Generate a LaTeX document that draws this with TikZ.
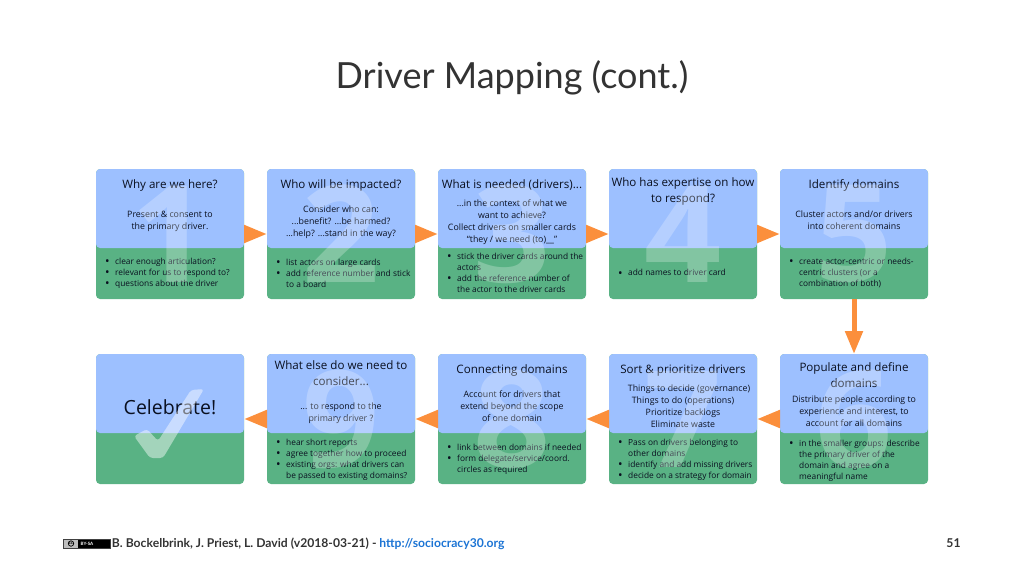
\documentclass[tikz,border=0pt]{standalone}
\usepackage{fontspec}
\setmainfont{Lato}
\setsansfont{Open Sans}
\usetikzlibrary{positioning, arrows.meta}
\definecolor{headblue}{HTML}{9DC0FF}
\definecolor{listgreen}{HTML}{59B284}
\definecolor{flowarrow}{HTML}{FB8F3C}
\definecolor{slidetext}{HTML}{333333}
\definecolor{linkblue}{HTML}{1C74D4}
\definecolor{cardtext}{HTML}{0A1020}
\newcommand{\bul}{\llap{\raisebox{-1.1pt}{\fontsize{12}{12}\selectfont\textbullet}\hspace{5.5pt}}}
\tikzset{
    card/.style = {rectangle, rounded corners=4pt, inner sep=0pt, outer sep=0pt, fill=listgreen,
        minimum width=148pt, minimum height=130pt,
        path picture={\fill[headblue] (path picture bounding box.north west) rectangle
            ([yshift=51pt]path picture bounding box.south east);}},
    cardhead/.style = {inner sep=0pt, align=center, text=cardtext, yshift=-2.5pt, execute at begin node=\strut,
        font=\sffamily\fontsize{11.6}{16}\selectfont},
    cardbody/.style = {inner sep=0pt, align=center, text=cardtext, yshift=-3pt, execute at begin node=\strut,
        font=\sffamily\fontsize{8.8}{12}\selectfont},
    cardlist/.style = {inner sep=0pt, align=left, text=cardtext, yshift=-2.5pt, execute at begin node=\strut,
        font=\sffamily\fontsize{8.35}{11}\selectfont},
    bignum/.style = {inner sep=0pt, text=white, opacity=0.25,
        font=\sffamily\bfseries\fontsize{135}{135}\selectfont},
    flow/.style = {draw=flowarrow, line width=5pt, -{Triangle[length=23pt,width=17pt]}},
}

\begin{document}
\begin{tikzpicture}[x=1pt,y=-1pt]
            \useasboundingbox (0,0) rectangle (1024,576);
            \node (title) at (512,78) [text=slidetext, font=\fontsize{36}{40}\selectfont] {Driver Mapping (cont.)};
            % top row
            \node (c1) at (170,234) [card] {};
            \node (c2) [card, right=23pt of c1] {};
            \node (c3) [card, right=23pt of c2] {};
            \node (c4) [card, right=23pt of c3] {};
            \node (c5) [card, right=23pt of c4] {};
            % bottom row, runs backwards
            \node (c6) [card, below=55pt of c5] {};
            \node (c7) [card, left=23pt of c6] {};
            \node (c8) [card, left=23pt of c7] {};
            \node (c9) [card, left=23pt of c8] {};
            \node (c10) [card, left=23pt of c9] {};
            \draw[flow] (c1.east) -- (c2.west);
            \draw[flow] (c2.east) -- (c3.west);
            \draw[flow] (c3.east) -- (c4.west);
            \draw[flow] (c4.east) -- (c5.west);
            \draw[flow] (c5.south) -- (c6.north);
            \draw[flow] (c6.west) -- (c7.east);
            \draw[flow] (c7.west) -- (c8.east);
            \draw[flow] (c8.west) -- (c9.east);
            \draw[flow] (c9.west) -- (c10.east);

            \node (h1) [cardhead, below=6pt of c1.north] {Why are we here?};
            \node (b1) [cardbody, below=39pt of c1.north] {Present \& consent to\\the primary driver.};
            \node (l1) [cardlist, below right=86.5pt and 19pt of c1.north west] {\bul clear enough articulation?\\\bul relevant for us to respond to?\\\bul questions about the driver};

            \node (h2) [cardhead, below=6pt of c2.north] {Who will be impacted?};
            \node (b2) [cardbody, below=34pt of c2.north] {Consider who can:\\...benefit? ...be harmed?\\...help? ...stand in the way?};
            \node (l2) [cardlist, below right=87.5pt and 19pt of c2.north west] {\bul list actors on large cards\\\bul add reference number and stick\\to a board};

            \node (h3) [cardhead, below=6pt of c3.north] {What is needed (drivers)...};
            \node (b3) [cardbody, below=28pt of c3.north] {...in the context of what we\\want to achieve?\\Collect drivers on smaller cards\\``they / we need (to)\_\_''};
            \node (l3) [cardlist, below right=81.5pt and 19pt of c3.north west] {\bul stick the driver cards around the\\actors\\\bul add the reference number of\\the actor to the driver cards};

            \node (h4) [cardhead, below=6pt of c4.north] {Who has expertise on how\\to respond?};
            \node (l4) [cardlist, below right=96.5pt and 19pt of c4.north west] {\bul add names to driver card};

            \node (h5) [cardhead, below=6pt of c5.north] {Identify domains};
            \node (b5) [cardbody, below=39pt of c5.north] {Cluster actors and/or drivers\\into coherent domains};
            \node (l5) [cardlist, below right=86.5pt and 19pt of c5.north west] {\bul create actor-centric or needs-\\centric clusters (or a\\combination of both)};

            \node (h6) [cardhead, below=6pt of c6.north] {Populate and define\\domains};
            \node (b6) [cardbody, below=39pt of c6.north] {Distribute people according to\\experience and interest, to\\account for all domains};
            \node (l6) [cardlist, below right=83.5pt and 19pt of c6.north west] {\bul in the smaller groups: describe\\the primary driver of the\\domain and agree on a\\meaningful name};

            \node (h7) [cardhead, below=6pt of c7.north] {Sort \& prioritize drivers};
            \node (b7) [cardbody, below=28pt of c7.north] {\hspace*{12pt}Things to decide (governance)\\Things to do (operations)\\Prioritize backlogs\\Eliminate waste};
            \node (l7) [cardlist, below right=82.5pt and 19pt of c7.north west] {\bul Pass on drivers belonging to\\other domains\\\bul identify and add missing drivers\\\bul decide on a strategy for domain};

            \node (h8) [cardhead, below=6pt of c8.north] {Connecting domains};
            \node (b8) [cardbody, below=34pt of c8.north] {Account for drivers that\\extend beyond the scope\\of one domain};
            \node (l8) [cardlist, below right=87.5pt and 19pt of c8.north west] {\bul link between domains if needed\\\bul form delegate/service/coord.\\circles as required};

            \node (h9) [cardhead, below=4pt of c9.north] {What else do we need to\\consider...};
            \node (b9) [cardbody, below=46pt of c9.north] {... to respond to the\\primary driver ?};
            \node (l9) [cardlist, below right=82.5pt and 19pt of c9.north west] {\bul hear short reports\\\bul agree together how to proceed\\\bul existing orgs: what drivers can\\be passed to existing domains?};

            \node (h10) [cardhead, font=\sffamily\fontsize{19.5}{20}\selectfont, below=43pt of c10.north] {Celebrate!};

            % big numbers sit over the text
            \node (n1) at (c1) [bignum] {1};
            \node (n2) at (c2) [bignum] {2};
            \node (n3) at (c3) [bignum] {3};
            \node (n4) at (c4) [bignum] {4};
            \node (n5) at (c5) [bignum] {5};
            \node (n6) at (c6) [bignum] {6};
            \node (n7) at (c7) [bignum] {7};
            \node (n8) at (c8) [bignum] {8};
            \node (n9) at (c9) [bignum] {9};
            \fill[white, opacity=0.45, rounded corners=3pt] (134,436) -- (147,429) -- (158,441) -- (191,390) -- (204,389) -- (163,458) -- (150,458) -- cycle;

            % footer
            \node (badge) at (86.5,543.5) [rectangle, draw=darkgray, fill=black, minimum width=47pt, minimum height=9.5pt, inner sep=0pt, line width=0.5pt,
                path picture={\fill[lightgray] (path picture bounding box.north west) rectangle ([xshift=15pt]path picture bounding box.south west);}] {};
            \node (cc) at (71,543.5) [circle, draw=black, line width=0.7pt, inner sep=0.2pt, font=\bfseries\fontsize{4.5}{5}\selectfont] {cc};
            \node (bysa) at (87,543.5) [inner sep=0pt, text=white, font=\bfseries\fontsize{4.5}{5}\selectfont] {BY-SA};
            \node (credit) [right=1.5pt of badge, inner sep=0pt, text=slidetext, font=\bfseries\fontsize{12.15}{14}\selectfont]
                {B. Bockelbrink, J. Priest, L. David (v2018-03-21) - \textcolor{linkblue}{http://sociocracy30.org}};
            \node (page) at (953.5,543.5) [inner sep=0pt, text=slidetext, font=\bfseries\fontsize{12.15}{14}\selectfont] {51};
\end{tikzpicture}
\end{document}
